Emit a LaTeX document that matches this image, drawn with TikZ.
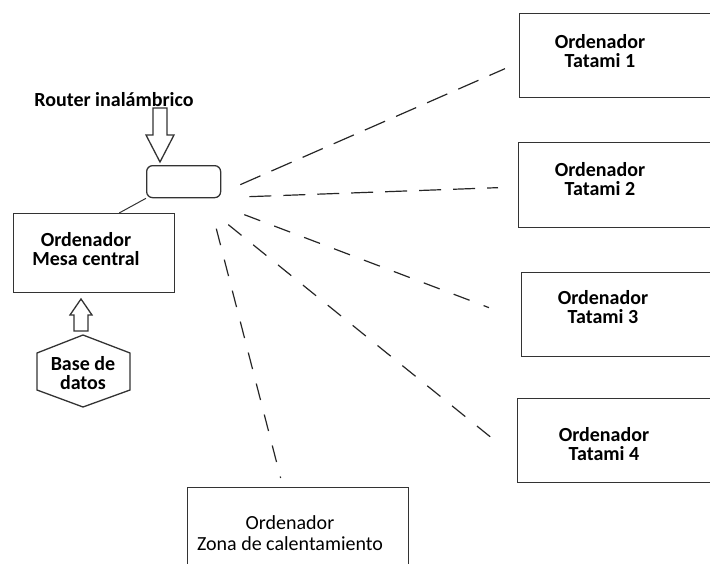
\documentclass[tikz,border=0pt]{standalone}
\usepackage{fontspec}
\setmainfont{Carlito}
\usepackage{tikz}
\usetikzlibrary{calc}

\begin{document}
\begin{tikzpicture}[x=1pt,y=-1pt,line width=1.3pt,
  pcbox/.style={draw=black!80,anchor=north west,inner sep=0pt},
  pclabel/.style={align=center,font=\fontsize{20}{19}\selectfont\bfseries},
  wifi/.style={draw=black!85,line width=1.2pt,dash pattern=on 22pt off 12pt},
  wifishort/.style={draw=black!85,line width=1.2pt,dash pattern=on 17pt off 15pt}]
  \useasboundingbox (0,0) rectangle (710,563);
  \clip (0,0) rectangle (710,563);
  % router
  \node[pcbox,rounded corners=6pt,minimum width=74,minimum height=32] (router) at (146,165) {};
  \node[pclabel,anchor=base] (routerlbl) at (114,106) {Router inalámbrico};
  \draw[draw=black!80] (153,108) -- (167,108) -- (167,135) -- (174,135) -- (160,162) -- (146,135) -- (153,135) -- cycle;
  % mesa central
  \node[pcbox,minimum width=161,minimum height=79] (mesa) at (13,213) {};
  \node[pclabel] (mesalbl) at (86,249) {Ordenador\\Mesa central};
  \draw[draw=black!80,line width=1pt] (router.south west) -- ($(mesa.north)+(25,0)$);
  % base de datos
  \draw[draw=black!80] (74,331) -- (88,331) -- (88,315) -- (92,315) -- (81,299) -- (70,315) -- (74,315) -- cycle;
  \node[pclabel] (db) at (83,373) {Base de\\datos};
  \draw[draw=black!80] (83,335) -- (130,353) -- (130,390) -- (83,407) -- (37,390) -- (37,353) -- cycle;
  % tatamis
  \node[pcbox,minimum width=230,minimum height=84] (t1) at (519,13) {};
  \node[pclabel] (t1lbl) at (600,51) {Ordenador\\Tatami 1};
  \node[pcbox,minimum width=230,minimum height=85] (t2) at (518,142) {};
  \node[pclabel] (t2lbl) at (600,179) {Ordenador\\Tatami 2};
  \node[pcbox,minimum width=230,minimum height=84] (t3) at (521,272) {};
  \node[pclabel] (t3lbl) at (603,307) {Ordenador\\Tatami 3};
  \node[pcbox,minimum width=230,minimum height=84] (t4) at (517,398) {};
  \node[pclabel] (t4lbl) at (604,444) {Ordenador\\Tatami 4};
  % zona de calentamiento
  \node[pcbox,minimum width=221,minimum height=100] (zona) at (187,487) {};
  \node[pclabel,font=\fontsize{20}{21}\selectfont] (zonalbl) at (290,533) {Ordenador\\Zona de calentamiento};
  % enlaces inalambricos
  \draw[wifi] ($(router.east)+(19,3)$) -- ($(t1.west)+(-14,13)$);
  \draw[wifi] ($(router.east)+(28,15)$) -- ($(t2.west)+(-20,2.5)$);
  \draw[wifishort] ($(router.east)+(23,33)$) -- ($(t3.west)+(-32,-7)$);
  \draw[wifishort] ($(router.east)+(7,43)$) -- ($(t4.west)+(-22,0)$);
  \draw[wifishort] ($(router.east)+(-5,47)$) -- ($(zona.north)+(-17.5,-9)$);
\end{tikzpicture}
\end{document}
